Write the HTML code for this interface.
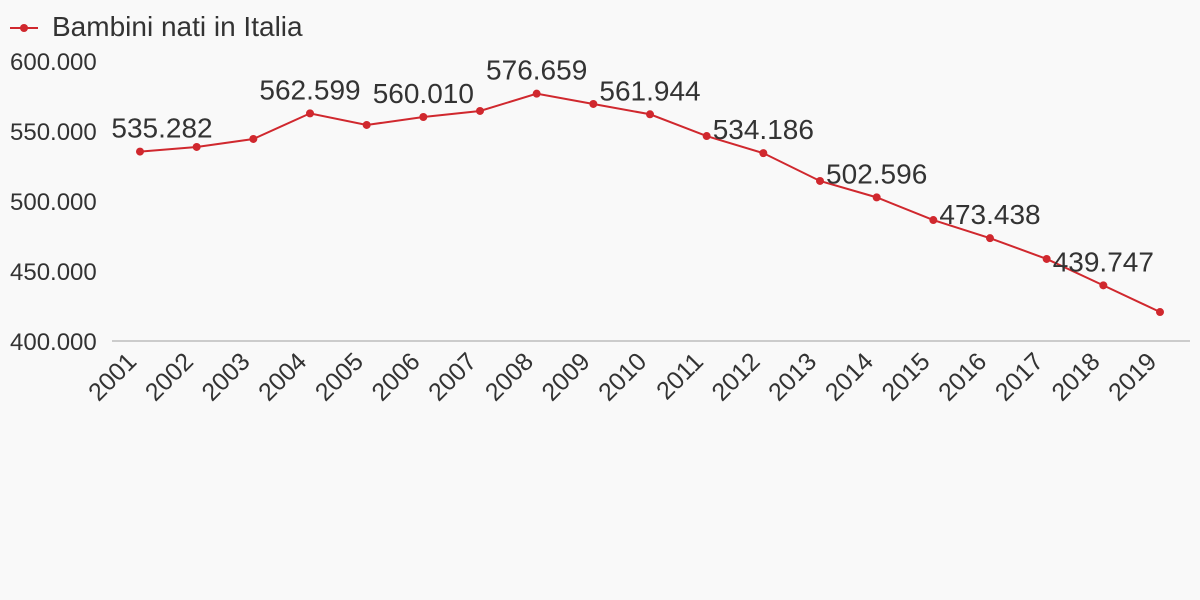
<!DOCTYPE html>
<html><head><meta charset="utf-8"><style>
html,body{margin:0;padding:0;background:#f9f9f9;}
svg{display:block;font-family:"Liberation Sans",sans-serif;}
</style></head><body>
<svg id="chart" width="1200" height="600">
<rect width="1200" height="600" fill="#f9f9f9"/>
<g>
<line x1="10" y1="28" x2="38" y2="28" stroke="#d0282e" stroke-width="2"/>
<circle cx="24" cy="28" r="4" fill="#d0282e"/>
<text x="52" y="36" font-size="28" fill="#333">Bambini nati in Italia</text>
</g>
<line x1="112" y1="341" x2="1190" y2="341" stroke="#ccc" stroke-width="2"/>
<g id="yticks"></g><g id="xticks"></g><g id="series"></g><g id="labels"></g>
</svg>
<script>
const years = ["2001","2002","2003","2004","2005","2006","2007","2008","2009","2010","2011","2012","2013","2014","2015","2016","2017","2018","2019"];
const births = [535282,538600,544300,562599,554300,560010,564300,576659,569300,561944,546400,534186,514300,502596,486400,473438,458600,439747,420700];
const shownLabels = [true,false,false,true,false,true,false,true,false,true,false,true,false,true,false,true,false,true,false];
const yTicks = [400000,450000,500000,550000,600000];
const yTickLabels = ["400.000","450.000","500.000","550.000","600.000"];
const NS="http://www.w3.org/2000/svg";
function xs(i){return 140+i*(1160-140)/(years.length-1);}
function ys(v){return 341-(v-400000)*(280/200000);}
function fmt(v){return String(v).replace(/\B(?=(\d{3})+(?!\d))/g,".");}
function mk(tag,attrs,parent){const e=document.createElementNS(NS,tag);for(const k in attrs)e.setAttribute(k,attrs[k]);parent.appendChild(e);return e;}
const yg=document.getElementById('yticks');
yTicks.forEach((t,i)=>{
 const e=mk('text',{x:10,y:ys(t)+9,'font-size':24,fill:'#333'},yg);
 e.textContent=yTickLabels[i];
 
 
});
const xg=document.getElementById('xticks');
years.forEach((y,i)=>{
 const x=xs(i)-2,yy=363;
 const e=mk('text',{x:x,y:yy,'font-size':25,fill:'#333','text-anchor':'end',transform:`rotate(-45 ${x} ${yy})`},xg);
 e.textContent=y;
 
 
});
const sg=document.getElementById('series');
const pl=mk('polyline',{points:births.map((v,i)=>xs(i)+','+ys(v)).join(' '),fill:'none',stroke:'#d0282e','stroke-width':2},sg);


births.forEach((v,i)=>{
 const c=mk('circle',{cx:xs(i),cy:ys(v),r:4,fill:'#d0282e'},sg);
 
 
});
const lg=document.getElementById('labels');
births.forEach((v,i)=>{
 if(!shownLabels[i])return;
 let cx=Math.max(xs(i),162);
 const t=mk('text',{x:cx,y:ys(v)-14,'font-size':28,fill:'#333','text-anchor':'middle'},lg);
 t.textContent=fmt(v);
 
 
});
</script>
</body></html>
